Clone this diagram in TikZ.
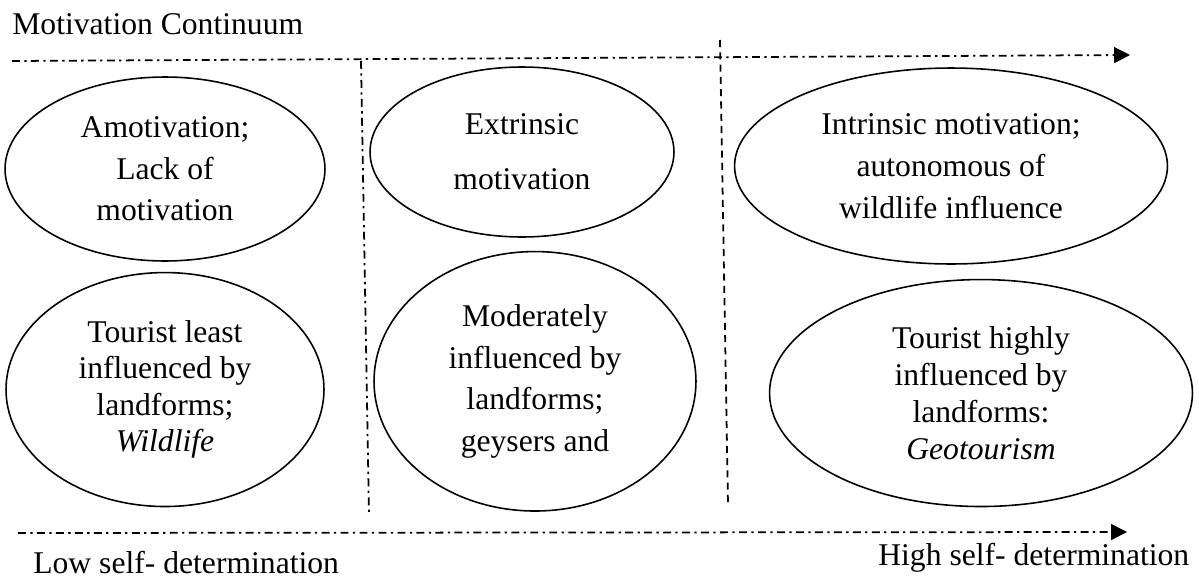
\documentclass[tikz,border=0pt]{standalone}
\usepackage{fontspec}
\setmainfont{Liberation Serif}
\usepackage{tikz}
\usetikzlibrary{shapes.geometric,arrows.meta,positioning}

\begin{document}
\begin{tikzpicture}[
    x=0.02cm, y=-0.02cm,
    oval/.style={ellipse, draw=black, line width=0.9pt, inner sep=0pt, align=center},
    axis/.style={line width=1pt, dash pattern=on 4.5pt off 2.5pt on 1.3pt off 2.5pt, -{Triangle[length=9pt,width=9pt]}},
    divider/.style={line width=1pt, dash pattern=on 4.5pt off 2.5pt on 1.3pt off 2.5pt},
    split/.style={line width=1pt, dash pattern=on 4pt off 3pt},
    axistext/.style={anchor=base west, inner sep=0pt, font=\fontsize{18}{22}\selectfont}
]
    \useasboundingbox (0,0) rectangle (1199,578);

    \node[axistext] (title) at (12,34) {Motivation Continuum};

    % top and bottom continuum
    \coordinate (topL) at (12,61);
    \coordinate (topR) at (1130,55);
    \coordinate (botL) at (18,533);
    \coordinate (botR) at (1127,532);
    \draw[axis] (topL) -- (topR);
    \draw[axis] (botL) -- (botR);

    % column separators
    \coordinate (sepA1) at (361,61);
    \coordinate (sepA2) at (369,515);
    \coordinate (sepB1) at (720,40);
    \coordinate (sepB2) at (728,505);
    \draw[divider] (sepA1) -- (sepA2);
    \draw[split] (sepB1) -- (sepB2);

    \node[oval, minimum width=6.4cm, minimum height=3.68cm, font=\fontsize{18}{23.6}\selectfont] (amot) at (165,169) {Amotivation;\\Lack of\\motivation};
    \node[oval, minimum width=6.36cm, minimum height=4.68cm, below=0.2cm of amot, font=\fontsize{18}{20.8}\selectfont] (least) {Tourist least\\influenced by\\landforms;\\\textit{Wildlife}};

    \node[oval, minimum width=6.08cm, minimum height=3.4cm, font=\fontsize{18}{31.2}\selectfont] (extr) at (522,152) {Extrinsic\\motivation};
    \node[oval, minimum width=6.44cm, minimum height=5.19cm, below=0.26cm of extr, xshift=0.26cm, font=\fontsize{18}{23.6}\selectfont] (moder) {Moderately\\influenced by\\landforms;\\geysers and};

    \node[oval, minimum width=8.66cm, minimum height=3.92cm, font=\fontsize{18}{23.8}\selectfont] (intr) at (951,166) {Intrinsic motivation;\\autonomous of\\wildlife influence};
    \node[oval, minimum width=8.46cm, minimum height=4.54cm, below=0.28cm of intr, xshift=0.6cm, font=\fontsize{18}{21}\selectfont] (highly) {Tourist highly\\influenced by\\landforms:\\\textit{Geotourism}};

    \node[axistext] (lowsd) at (33,573) {Low self- determination};
    \node[axistext] (highsd) at (878,565) {High self- determination};
\end{tikzpicture}
\end{document}
